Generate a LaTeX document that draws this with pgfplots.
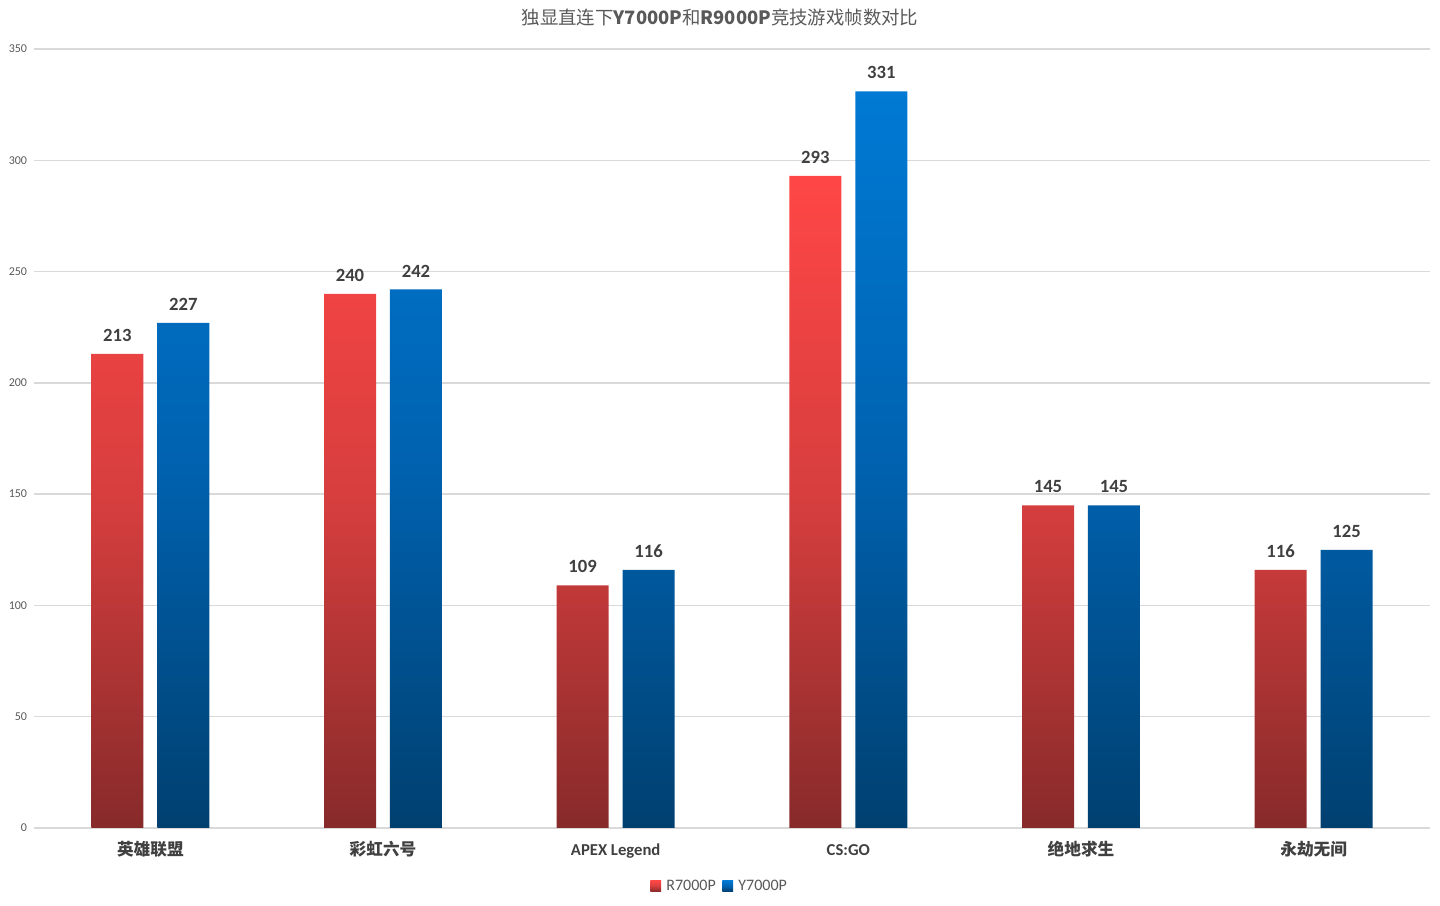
\documentclass[border=0pt]{standalone}
\usepackage{pgfplots}
\pgfplotsset{compat=1.18}
\usepackage{fontspec}
\setmainfont{Carlito}
\newfontfamily\cjk{Noto Sans CJK SC}
\definecolor{rtop}{RGB}{255,70,70}
\definecolor{rmid}{RGB}{214,62,62}
\definecolor{rbot}{RGB}{135,42,42}
\definecolor{btop}{RGB}{0,122,212}
\definecolor{bmid}{RGB}{0,98,176}
\definecolor{bbot}{RGB}{0,64,112}
\definecolor{gridc}{RGB}{217,217,217}
\definecolor{labc}{RGB}{64,64,64}
\definecolor{tickc}{RGB}{89,89,89}

\begin{document}
\begin{tikzpicture}
\useasboundingbox (0pt,0pt) rectangle (1080pt,679.5pt);
\node[text=tickc, font=\fontsize{13.8}{16}\selectfont] at (540pt,666.5pt)
  {\cjk 独显直连下\textbf{Y7000P}和\textbf{R9000P}竞技游戏帧数对比};
\begin{axis}[
  at={(25.5pt,58.5pt)}, anchor=south west,
  scale only axis, width=1047pt, height=584.25pt,
  ybar,
  xmin=-0.5, xmax=5.5, ymin=0, ymax=350,
  ytick={0,50,...,350},
  xtick={0,...,5},
  xticklabels={{\cjk\bfseries 英雄联盟},{\cjk\bfseries 彩虹六号},{APEX Legend},{CS:GO},{\cjk\bfseries 绝地求生},{\cjk\bfseries 永劫无间}},
  axis line style={draw=none},
  tick style={draw=none},
  ymajorgrids, grid style={gridc, line width=1pt},
  yticklabel style={font=\fontsize{9}{10}\selectfont, text=tickc, inner sep=0pt, xshift=-5pt},
  xticklabel style={font=\bfseries\fontsize{12.5}{14}\selectfont, text=labc, inner sep=0pt, anchor=base, yshift=-16pt},
  /pgf/number format/assume math mode=true,
  bar width=0.2235,
  nodes near coords,
  every node near coord/.append style={font=\bfseries\fontsize{14}{16}\selectfont, text=labc, anchor=south, inner sep=0pt, yshift=9pt},
  legend columns=2,
  legend style={draw=none, at={(0.4914,-0.0745)}, anchor=center, font=\fontsize{12}{13}\selectfont, text=tickc,
    /tikz/every even column/.append style={column sep=3pt}},
  legend image code/.code={\path[#1] (0pt,-4pt) rectangle (8pt,4pt); \path (10pt,0pt);},
]
\addplot[bar shift=-0.1418, draw=none, top color=rtop, bottom color=rbot, middle color=rmid]
  coordinates {(0,213) (1,240) (2,109) (3,293) (4,145) (5,116)};
\addlegendentry{R7000P}
\addplot[bar shift=0.1418, draw=none, top color=btop, bottom color=bbot, middle color=bmid]
  coordinates {(0,227) (1,242) (2,116) (3,331) (4,145) (5,125)};
\addlegendentry{Y7000P}
\end{axis}
\end{tikzpicture}
\end{document}
